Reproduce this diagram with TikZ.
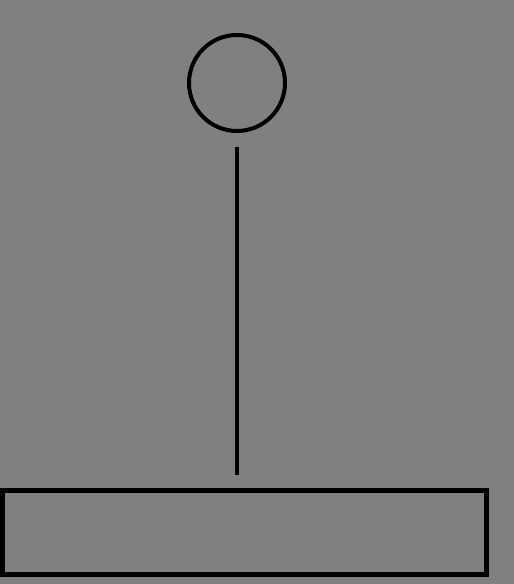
\documentclass[tikz,border=0pt]{standalone}
\usepackage{xcolor}
\usepackage{tikz}
\usetikzlibrary{positioning}
\tikzset{
  knob/.style={draw, circle, line width=4pt, inner sep=0pt, minimum size=96pt},
  slab/.style={draw, rectangle, line width=5pt, inner sep=0pt,
               minimum width=484pt, minimum height=84pt},
  stem/.style={line width=4pt, shorten <=13.7pt, shorten >=13pt},
}

\begin{document}
\begin{tikzpicture}[x=1pt, y=1pt]
    \fill[gray] (0,0) rectangle (514,584);
    \useasboundingbox (0,0) rectangle (514,584);
    \node[knob] (head) at (237,501) {};
    \node[slab] (base) at (244.5,51.5) {};
    \draw[stem] (head.south) -- (head.south |- base.north);
  \end{tikzpicture}
\end{document}
